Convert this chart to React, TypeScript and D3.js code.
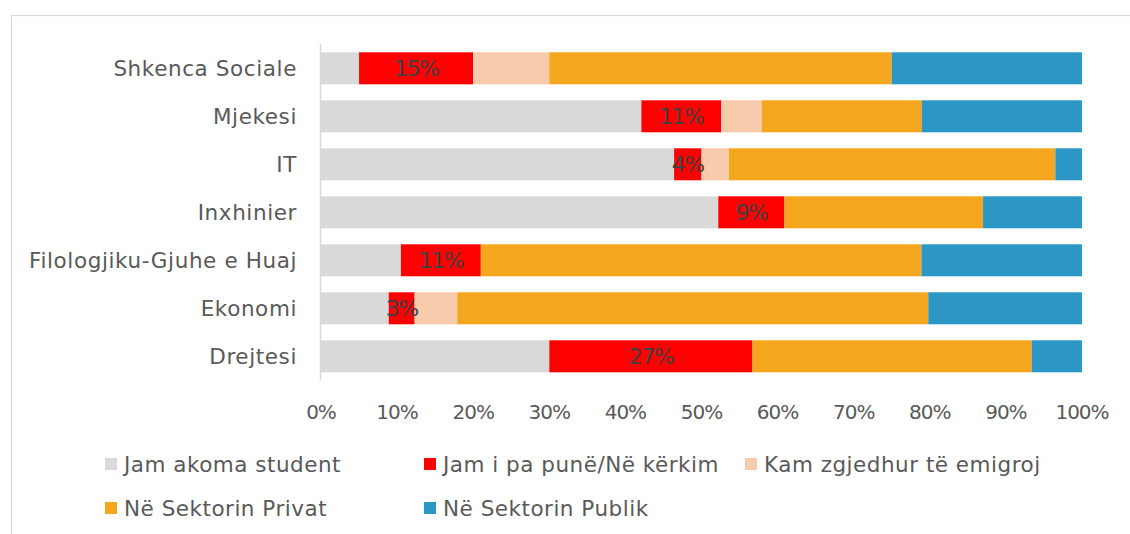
import React from "react";
import * as d3 from "d3";

const categories = [
  "Shkenca Sociale",
  "Mjekesi",
  "IT",
  "Inxhinier",
  "Filologjiku-Gjuhe e Huaj",
  "Ekonomi",
  "Drejtesi",
];
const seriesNames = [
  "Jam akoma student",
  "Jam i pa punë/Në kërkim",
  "Kam zgjedhur të emigroj",
  "Në Sektorin Privat",
  "Në Sektorin Publik",
];
const student = [5, 42.1, 46.4, 52.2, 10.5, 8.9, 30];
const unemployed = [15, 10.5, 3.6, 8.7, 10.5, 3.4, 26.7];
const emigrate = [10, 5.3, 3.6, 0, 0, 5.6, 0];
const privateSector = [45, 21.05, 42.9, 26.1, 57.9, 61.9, 36.7];
const publicSector = [25, 21.05, 3.5, 13, 21.1, 20.2, 6.6];
const xTicks = [0, 10, 20, 30, 40, 50, 60, 70, 80, 90, 100];
const colors = ["#d9d9d9", "#ff0000", "#f8cbad", "#f5a61f", "#2c97c5"];

const W = 1130;
const H = 534;
const FONT = "'DejaVu Sans', sans-serif";
const TEXT = "#595959";

export default function App() {
  const keys = ["s0", "s1", "s2", "s3", "s4"];
  const seriesData = [student, unemployed, emigrate, privateSector, publicSector];
  const rows = categories.map((c, i) => {
    const r: any = { cat: c };
    keys.forEach((k, j) => (r[k] = seriesData[j][i]));
    return r;
  });
  const stacked = d3.stack().keys(keys)(rows as any);

  const x = d3.scaleLinear().domain([0, 100]).range([321, 1082]);
  const y = d3
    .scaleBand()
    .domain(categories)
    .range([44.3, 380.3])
    .paddingInner(1 / 3)
    .paddingOuter(1 / 6);

  const legendItems = [
    { x: 105, y: 458 },
    { x: 424, y: 458 },
    { x: 745, y: 458 },
    { x: 105, y: 502 },
    { x: 424, y: 502 },
  ];

  return (
    <svg
      width={W}
      height={H}
      style={{ position: "absolute", left: 0, top: 0, background: "#fff" }}
    >
      <rect x={0} y={0} width={W} height={H} fill="#fff" />
      <rect
        x={11.5}
        y={15.5}
        width={W + 50}
        height={H + 50}
        fill="none"
        stroke="#d9d9d9"
        strokeWidth={1.2}
      />
      {stacked.map((s, si) => (
        <g key={si} fill={colors[si]}>
          {s.map((d: any, i: number) => (
            <rect
              key={i}
              x={x(d[0])}
              y={y(categories[i])!}
              width={Math.max(0, x(d[1]) - x(d[0]))}
              height={y.bandwidth()}
            />
          ))}
        </g>
      ))}
      <line x1={320.5} x2={320.5} y1={44} y2={380.5} stroke="#d9d9d9" strokeWidth={1.5} />
      {categories.map((c) => (
        <text
          key={c}
          x={297}
          y={y(c)! + y.bandwidth() / 2}
          dy="0.36em"
          textAnchor="end"
          fontFamily={FONT}
          fontSize={21.5}
          letterSpacing={0.6}
          fill={TEXT}
        >
          {c}
        </text>
      ))}
      {stacked[1].map((d: any, i: number) => (
        <text
          key={i}
          x={(x(d[0]) + x(d[1])) / 2}
          y={y(categories[i])! + y.bandwidth() / 2}
          dy="0.36em"
          textAnchor="middle"
          fontFamily={FONT}
          fontSize={22}
          letterSpacing={-1.5}
          fill="#404040"
        >
          {Math.round(unemployed[i]) + "%"}
        </text>
      ))}
      {xTicks.map((t) => (
        <text
          key={t}
          x={x(t)}
          y={411.5}
          dy="0.36em"
          textAnchor="middle"
          fontFamily={FONT}
          fontSize={20}
          letterSpacing={-1}
          fill={TEXT}
        >
          {t + "%"}
        </text>
      ))}
      {seriesNames.map((n, i) => (
        <g key={n}>
          <rect
            x={legendItems[i].x}
            y={legendItems[i].y}
            width={12}
            height={12}
            fill={colors[i]}
          />
          <text
            x={legendItems[i].x + 19}
            y={legendItems[i].y + 6}
            dy="0.36em"
            fontFamily={FONT}
            fontSize={21.5}
            letterSpacing={0.5}
            fill={TEXT}
          >
            {n}
          </text>
        </g>
      ))}
    </svg>
  );
}
